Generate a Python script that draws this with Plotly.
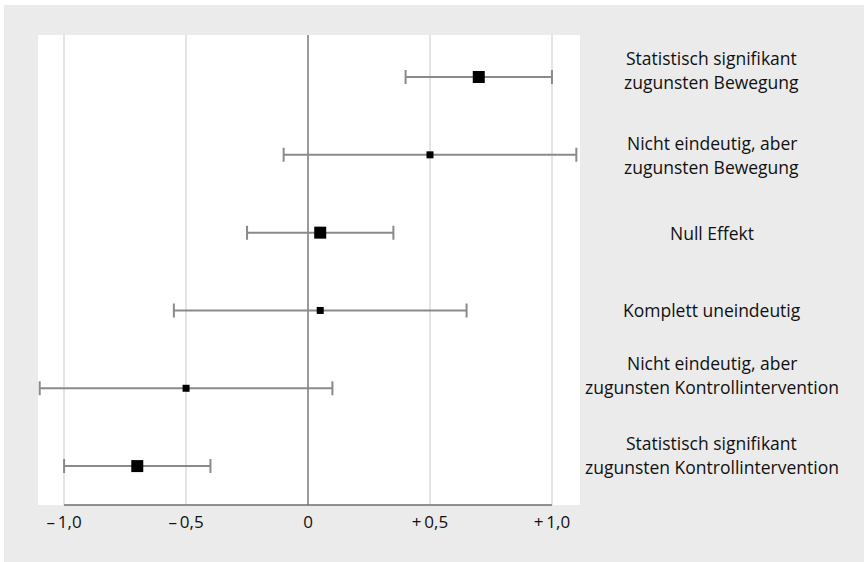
import plotly.graph_objects as go

# ---- data ----
categories = [
    "Statistisch signifikant\nzugunsten Bewegung",
    "Nicht eindeutig, aber\nzugunsten Bewegung",
    "Null Effekt",
    "Komplett uneindeutig",
    "Nicht eindeutig, aber\nzugunsten Kontrollintervention",
    "Statistisch signifikant\nzugunsten Kontrollintervention",
]
effects = [0.70, 0.50, 0.05, 0.05, -0.50, -0.70]
ci_low = [0.40, -0.10, -0.25, -0.55, -1.10, -1.00]
ci_high = [1.00, 1.10, 0.35, 0.65, 0.10, -0.40]
weights = ["large", "small", "large", "small", "small", "large"]
tick_vals = [-1.0, -0.5, 0.0, 0.5, 1.0]
tick_text = ["\u2013\u20091,0", "\u2013\u20090,5", "0", "+\u20090,5", "+\u20091,0"]

# ---- styling ----
FONT = "Open Sans"
size_map = {"large": 12, "small": 7}
label_shift = [7, 0, 0, 0, 13, 11]
LINE_GAP = 24

n = len(categories)
rows = list(range(n, 0, -1))
err_plus = [h - e for h, e in zip(ci_high, effects)]
err_minus = [e - l for e, l in zip(effects, ci_low)]

fig = go.Figure()
# confidence intervals
fig.add_trace(go.Scatter(
    x=effects, y=rows, mode="markers",
    marker=dict(size=1, opacity=0),
    error_x=dict(type="data", symmetric=False, array=err_plus, arrayminus=err_minus,
                 color="#8a8a8a", thickness=2, width=7),
    showlegend=False, hoverinfo="skip",
))
# point estimates
fig.add_trace(go.Scatter(
    x=effects, y=rows, mode="markers",
    marker=dict(symbol="square", color="#000000", opacity=1,
                size=[size_map[w] for w in weights], line=dict(width=0)),
    showlegend=False, hoverinfo="skip",
))

annotations = []
for r, cat, sh in zip(rows, categories, label_shift):
    lines = cat.split("\n")
    m = len(lines)
    for k, line in enumerate(lines):
        annotations.append(dict(
            x=1.2435, xref="paper", y=r, yref="y",
            text=line, showarrow=False, xanchor="center", yanchor="middle",
            yshift=sh - (k - (m - 1) / 2) * LINE_GAP,
            font=dict(family=FONT, size=17.5, color="#111111"),
        ))

shapes = [
    # bottom axis line spanning the tick range
    dict(type="line", xref="x", yref="paper", x0=min(tick_vals), x1=max(tick_vals),
         y0=0, y1=0, line=dict(color="#6e6e6e", width=1.5)),
    # thin white page margins top/left
    dict(type="rect", xref="paper", yref="paper", x0=-0.08, x1=-0.0627, y0=-0.2, y1=1.1,
         fillcolor="white", line=dict(width=0)),
    dict(type="rect", xref="paper", yref="paper", x0=-0.08, x1=1.6, y0=1.0638, y1=1.1,
         fillcolor="white", line=dict(width=0)),
]

fig.update_layout(
    width=864, height=562,
    margin=dict(l=38, r=284, t=35, b=57),
    paper_bgcolor="#ebebeb", plot_bgcolor="white",
    annotations=annotations, shapes=shapes,
    font=dict(family=FONT, size=17, color="#111111"),
    xaxis=dict(range=[-1.107, 1.115], tickvals=tick_vals, ticktext=tick_text,
               showgrid=True, gridcolor="#e4e4e4", gridwidth=1.5,
               zeroline=True, zerolinecolor="#9a9a9a", zerolinewidth=2,
               showline=False, ticks="", fixedrange=True, ticklabelstandoff=5,
               tickfont=dict(family=FONT, size=17, color="#111111")),
    yaxis=dict(range=[0.5, 6.54], showgrid=False, zeroline=False, showline=False,
               showticklabels=False, ticks="", fixedrange=True),
)

fig.write_html("out.html", config={"displayModeBar": False},
               post_script="document.body.style.margin='0';document.body.style.padding='0';")
